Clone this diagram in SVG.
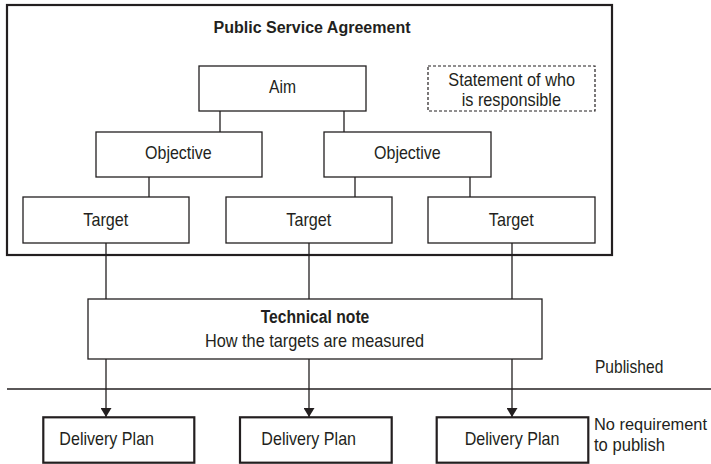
<svg xmlns="http://www.w3.org/2000/svg" width="711" height="464" viewBox="0 0 711 464">
<style>
text{font-family:"Liberation Sans",Arial,sans-serif;font-size:18.5px;fill:#231f20}
.c{text-anchor:middle}
.b{font-weight:bold}
.t{font-size:16px}
.box{fill:#fff;stroke:#231f20;stroke-width:1.3}
.dp{fill:#fff;stroke:#231f20;stroke-width:2.2}
.ln{stroke:#231f20;stroke-width:1.3;fill:none}
</style>
<defs>
<marker id="ah" viewBox="0 0 9 11" refX="9" refY="5.5" markerWidth="9" markerHeight="11" markerUnits="userSpaceOnUse" orient="auto">
<path d="M0,0 L9,5.5 L0,11 Z" fill="#231f20"/>
</marker>
</defs>
<rect width="711" height="464" fill="#fff"/>
<g id="psa">
<rect x="7" y="5" width="605" height="250" fill="none" stroke="#231f20" stroke-width="2.2"/>
<text class="c b t" x="312" y="33" textLength="197" lengthAdjust="spacingAndGlyphs">Public Service Agreement</text>
</g>
<g id="connectors">
<path class="ln" d="M220,111V132M344,111V132M149,177V197M355,177V197M470,177V197"/>
<path class="ln" d="M106,243V299M309,243V299M512,243V299"/>
<path class="ln" d="M106,359V417" marker-end="url(#ah)"/>
<path class="ln" d="M309,359V417" marker-end="url(#ah)"/>
<path class="ln" d="M512,359V417" marker-end="url(#ah)"/>
</g>
<g id="aim"><rect class="box" x="199" y="66" width="167" height="45"/><text class="c" x="282.5" y="93.3" textLength="27" lengthAdjust="spacingAndGlyphs">Aim</text></g>
<g id="statement"><rect x="428" y="66" width="167" height="45" fill="#fff" stroke="#231f20" stroke-width="1.2" stroke-dasharray="3,2"/><text class="c" x="511.7" y="86" textLength="126.7" lengthAdjust="spacingAndGlyphs">Statement of who</text><text class="c" x="511.3" y="105.5" textLength="99.3" lengthAdjust="spacingAndGlyphs">is responsible</text></g>
<g id="objective1"><rect class="box" x="96" y="132" width="166" height="45"/><text class="c" x="178.4" y="159.3" textLength="66.7" lengthAdjust="spacingAndGlyphs">Objective</text></g>
<g id="objective2"><rect class="box" x="324" y="132" width="167" height="45"/><text class="c" x="407.4" y="159.3" textLength="66.7" lengthAdjust="spacingAndGlyphs">Objective</text></g>
<g id="target1"><rect class="box" x="23" y="197" width="166" height="46"/><text class="c" x="105.8" y="225.5" textLength="45" lengthAdjust="spacingAndGlyphs">Target</text></g>
<g id="target2"><rect class="box" x="226" y="197" width="166" height="46"/><text class="c" x="308.8" y="225.5" textLength="45" lengthAdjust="spacingAndGlyphs">Target</text></g>
<g id="target3"><rect class="box" x="428" y="197" width="167" height="46"/><text class="c" x="511.3" y="225.5" textLength="45" lengthAdjust="spacingAndGlyphs">Target</text></g>
<g id="technote"><rect class="box" x="88" y="299" width="454" height="60"/><text class="c b" x="315" y="322.7" style="font-size:17.5px" textLength="108.7" lengthAdjust="spacingAndGlyphs">Technical note</text><text class="c" x="314.5" y="346.5" textLength="219" lengthAdjust="spacingAndGlyphs">How the targets are measured</text></g>
<g id="divider"><line class="ln" x1="7" y1="389" x2="711" y2="389"/><text x="595" y="373" textLength="68.3" lengthAdjust="spacingAndGlyphs">Published</text><text x="594" y="429.5" style="font-size:16.5px" textLength="113" lengthAdjust="spacingAndGlyphs">No requirement</text><text x="594" y="451" textLength="71" lengthAdjust="spacingAndGlyphs">to publish</text></g>
<g id="dp1"><rect class="dp" x="43.3" y="417.3" width="151" height="45.4"/><text class="c" x="106.7" y="445.3" textLength="94.7" lengthAdjust="spacingAndGlyphs">Delivery Plan</text></g>
<g id="dp2"><rect class="dp" x="240" y="417.3" width="151.7" height="45.4"/><text class="c" x="308.7" y="445.3" textLength="94.7" lengthAdjust="spacingAndGlyphs">Delivery Plan</text></g>
<g id="dp3"><rect class="dp" x="436.7" y="417.3" width="151.6" height="45.4"/><text class="c" x="512" y="445.3" textLength="94.7" lengthAdjust="spacingAndGlyphs">Delivery Plan</text></g>
</svg>
